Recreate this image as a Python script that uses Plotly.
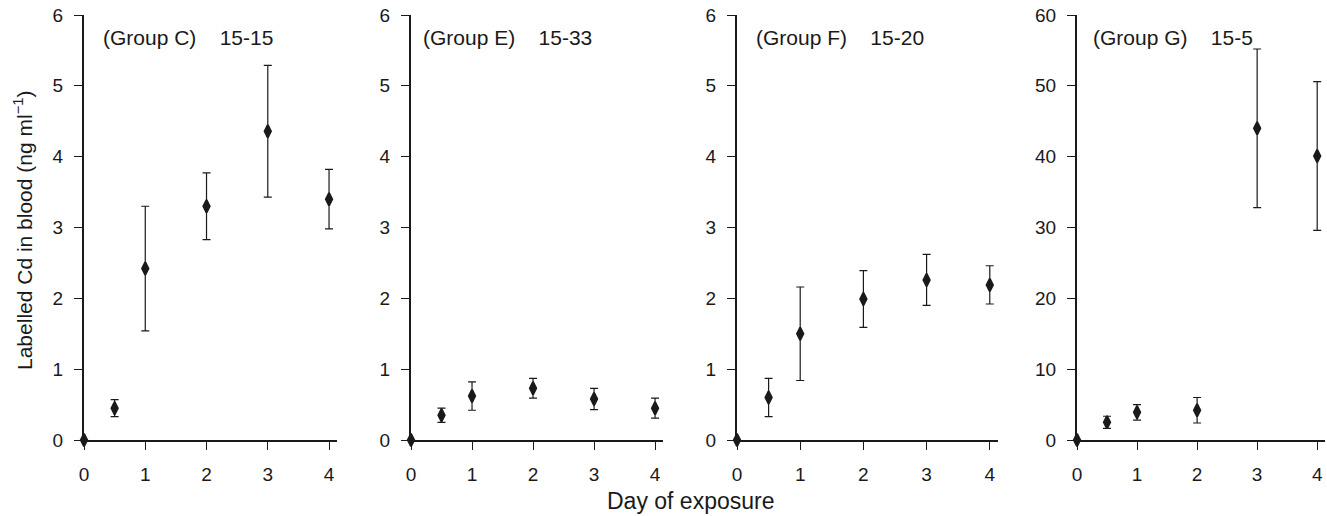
import plotly.graph_objects as go

days = [0, 0.5, 1, 2, 3, 4]

groups = ["(Group C)", "(Group E)", "(Group F)", "(Group G)"]
codes = ["15-15", "15-33", "15-20", "15-5"]

mean_c = [0, 0.45, 2.42, 3.30, 4.36, 3.40]
err_c = [0, 0.12, 0.88, 0.47, 0.93, 0.42]

mean_e = [0, 0.35, 0.62, 0.73, 0.58, 0.45]
err_e = [0, 0.10, 0.20, 0.14, 0.15, 0.14]

mean_f = [0, 0.60, 1.50, 1.99, 2.26, 2.19]
err_f = [0, 0.27, 0.66, 0.40, 0.36, 0.27]

mean_g = [0, 2.5, 3.9, 4.2, 44.0, 40.1]
err_g = [0, 0.85, 1.1, 1.8, 11.2, 10.5]

y_max = [6, 6, 6, 60]
y_ticks = [[0, 1, 2, 3, 4, 5, 6]] * 3 + [[0, 10, 20, 30, 40, 50, 60]]
x_ticks = [0, 1, 2, 3, 4]

means = [mean_c, mean_e, mean_f, mean_g]
errs = [err_c, err_e, err_f, err_g]

W, H = 1327, 516
# pixel extents of each panel (left, right)
px = [(84, 337), (411, 663), (737, 998), (1077, 1325)]
label_off = [17, 10, 17, 14]
top_px, bot_px = 15, 440

fig = go.Figure()
font_fam = "Liberation Sans, Arial, Helvetica, sans-serif"
ink = "#1a1a1a"

layout = dict(
    template="none",
    width=W, height=H,
    margin=dict(l=0, r=0, t=0, b=0, pad=0, autoexpand=False),
    plot_bgcolor="white", paper_bgcolor="white",
    showlegend=False,
    font=dict(family=font_fam, size=18, color=ink),
)

annotations = []
for i in range(4):
    sfx = "" if i == 0 else str(i + 1)
    fig.add_trace(go.Scatter(
        x=days, y=means[i],
        mode="markers",
        marker=dict(symbol="diamond-tall", size=9, color=ink,
                    line=dict(color=ink, width=2)),
        error_y=dict(type="data", array=errs[i], visible=True,
                     color=ink, thickness=1.2, width=4),
        cliponaxis=False,
        xaxis="x" + sfx, yaxis="y" + sfx,
    ))
    l, r = px[i]
    layout["xaxis" + sfx] = dict(
        domain=[l / W, r / W], range=[0, 4.13], automargin=False,
        tickvals=x_ticks, ticks="outside", ticklen=8, tickwidth=1.2,
        tickcolor=ink, showline=True, linecolor=ink, linewidth=2,
        showgrid=False, zeroline=False, anchor="y" + sfx,
        tickfont=dict(size=19, color=ink), ticklabelstandoff=8,
    )
    layout["yaxis" + sfx] = dict(
        domain=[(H - bot_px) / H, (H - top_px) / H], range=[0, y_max[i]],
        automargin=False,
        tickvals=y_ticks[i], ticks="outside", ticklen=8, tickwidth=1.2,
        tickcolor=ink, showline=True, linecolor=ink, linewidth=2,
        showgrid=False, zeroline=False, anchor="x" + sfx,
        tickfont=dict(size=19, color=ink), ticklabelstandoff=7,
    )
    annotations.append(dict(
        text=groups[i] + "\u00a0\u00a0\u00a0\u00a0" + codes[i],
        x=(l + label_off[i]) / W, y=(H - 37) / H,
        xref="paper", yref="paper", xanchor="left", yanchor="middle",
        showarrow=False, font=dict(size=21, color=ink),
    ))

annotations.append(dict(
    text="Labelled Cd in blood (ng ml<sup>−1</sup>)", x=23 / W, y=(H - 231) / H,
    xref="paper", yref="paper", xanchor="center", yanchor="middle",
    textangle=-90, showarrow=False, font=dict(size=21, color=ink),
))
annotations.append(dict(
    text="Day of exposure", x=690 / W, y=(H - 501) / H,
    xref="paper", yref="paper", xanchor="center", yanchor="middle",
    showarrow=False, font=dict(size=23, color=ink),
))
layout["annotations"] = annotations
fig.update_layout(**layout)
fig.write_html("out.html")
